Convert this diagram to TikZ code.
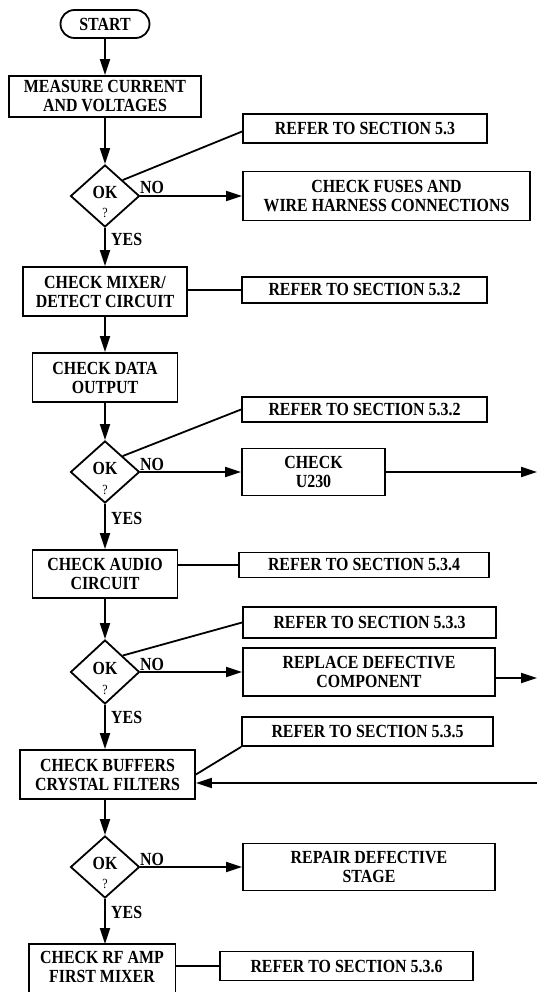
\documentclass[tikz,border=0pt]{standalone}
\usepackage{fontspec}
\setmainfont{Liberation Serif}[FakeStretch=0.86]
\usetikzlibrary{shapes.geometric,arrows.meta,calc}
\begin{document}
\begin{tikzpicture}[x=1pt,y=-1pt,
  lw/.style={line width=1.8pt},
  txt/.style={font=\bfseries\fontsize{18.5}{19}\selectfont},
  box/.style={draw, lw, txt, inner sep=0pt, align=center},
  term/.style={box, rounded corners=14pt},
  dia/.style={draw, lw, diamond, inner sep=0pt, minimum width=69pt, minimum height=62pt},
  lbl/.style={txt, inner sep=0pt},
  qm/.style={font=\fontsize{14}{14}\selectfont, inner sep=0pt},
  arr/.style={lw, -{Triangle[length=16pt,width=10pt]}},
  ln/.style={lw}]
\useasboundingbox (0,0) rectangle (538,992);
% main column
\node[term, minimum width=89pt, minimum height=28pt] (start) at (105,24) {START};
\node[box, minimum width=192pt, minimum height=41pt] (measure) at (105,96.5) {MEASURE CURRENT\\AND VOLTAGES};
\node[dia] (d1) at (105,196) {};
\node[box, minimum width=164pt, minimum height=49pt] (mixer) at (105,291.5) {CHECK MIXER/\\DETECT CIRCUIT};
\node[box, minimum width=145pt, minimum height=49pt] (data) at (105,377.5) {CHECK DATA\\OUTPUT};
\node[dia] (d2) at (105,472) {};
\node[box, minimum width=145pt, minimum height=48pt] (audio) at (105,574) {CHECK AUDIO\\CIRCUIT};
\node[dia, minimum height=64pt] (d3) at (105,672) {};
\node[box, minimum width=175pt, minimum height=49pt] (buffers) at (107.5,774.5) {CHECK BUFFERS\\CRYSTAL FILTERS};
\node[dia] (d4) at (105,867) {};
\node[box, draw=none, minimum width=145pt, minimum height=44pt] (rfamp) at (102,967) {CHECK RF AMP\\FIRST MIXER};
\draw[lw] (rfamp.north west) rectangle ($(rfamp.south east)+(0,14)$);
% diamond texts
\node[lbl] (ok1) at (105,192) {OK};
\node[qm] (q1) at (105,213) {?};
\node[lbl] (ok2) at (105,468) {OK};
\node[qm] (q2) at (105,490) {?};
\node[lbl] (ok3) at (105,668) {OK};
\node[qm] (q3) at (105,690) {?};
\node[lbl] (ok4) at (105,863) {OK};
\node[qm] (q4) at (105,884) {?};
% YES / NO labels
\node[lbl, anchor=west] (yes1) at (111,239) {YES};
\node[lbl, anchor=west] (yes2) at (111,518) {YES};
\node[lbl, anchor=west] (yes3) at (111,717) {YES};
\node[lbl, anchor=west] (yes4) at (111,912) {YES};
\node[lbl, anchor=base west] (no1) at (140,194) {NO};
\node[lbl, anchor=base west] (no2) at (140,470) {NO};
\node[lbl, anchor=base west] (no3) at (140,670) {NO};
\node[lbl, anchor=base west] (no4) at (140,865) {NO};
% right column
\node[box, minimum width=244pt, minimum height=29pt] (ref1) at (365,128.5) {REFER TO SECTION 5.3};
\node[box, minimum width=287pt, minimum height=49pt] (fuses) at (386.5,196) {CHECK FUSES AND\\WIRE HARNESS CONNECTIONS};
\node[box, minimum width=245pt, minimum height=26pt] (ref2) at (364.5,290) {REFER TO SECTION 5.3.2};
\node[box, minimum width=245pt, minimum height=25pt] (ref3) at (364.5,409.5) {REFER TO SECTION 5.3.2};
\node[box, minimum width=143pt, minimum height=47pt] (u230) at (313.5,472) {CHECK\\U230};
\node[box, minimum width=250pt, minimum height=25pt] (ref4) at (364,565) {REFER TO SECTION 5.3.4};
\node[box, minimum width=253pt, minimum height=31pt] (ref5) at (369.5,622.5) {REFER TO SECTION 5.3.3};
\node[box, minimum width=252pt, minimum height=48pt] (replace) at (369,672) {REPLACE DEFECTIVE\\COMPONENT};
\node[box, minimum width=251pt, minimum height=29pt] (ref6) at (367.5,731.5) {REFER TO SECTION 5.3.5};
\node[box, minimum width=252pt, minimum height=47pt] (repair) at (369,867) {REPAIR DEFECTIVE\\STAGE};
\node[box, minimum width=253pt, minimum height=29pt] (ref7) at (346.5,966) {REFER TO SECTION 5.3.6};
% free ends at the right edge
\coordinate (outA) at (537,472);
\coordinate (outB) at (537,678);
\coordinate (inC) at (537,783);
% main flow
\draw[arr] (start) -- (measure);
\draw[arr] (measure) -- (d1);
\draw[arr] (d1) -- (mixer);
\draw[arr] (mixer) -- (mixer.south |- data.north);
\draw[arr] (data) -- (d2);
\draw[arr] (d2) -- (audio);
\draw[arr] (audio) -- (d3);
\draw[arr] (d3) -- (d3.south |- buffers.north);
\draw[arr] (buffers.south -| d4.north) -- (d4);
\draw[arr] (d4) -- (d4.south |- rfamp.north);
% NO branches
\draw[arr] (d1.east) -- (fuses.west);
\draw[arr] (d2.east) -- (u230.west);
\draw[arr] (d3.east) -- (replace.west);
\draw[arr] (d4.east) -- (repair.west);
% side arrows
\draw[arr] (u230.east) -- (outA);
\draw[arr] (replace.east |- outB) -- (outB);
\draw[arr] (inC) -- (inC -| buffers.east);
% reference lines
\draw[ln] (d1.north east) -- ([yshift=-3pt]ref1.west);
\draw[ln] (ref2.west) -- (ref2.west -| mixer.east);
\draw[ln] (d2.north east) -- (ref3.west);
\draw[ln] (ref4.west) -- (ref4.west -| audio.east);
\draw[ln] (d3.north east) -- (ref5.west);
\draw[ln] (ref6.south west) -- (buffers.east);
\draw[ln] (ref7.west) -- (ref7.west -| rfamp.east);
\end{tikzpicture}
\end{document}
